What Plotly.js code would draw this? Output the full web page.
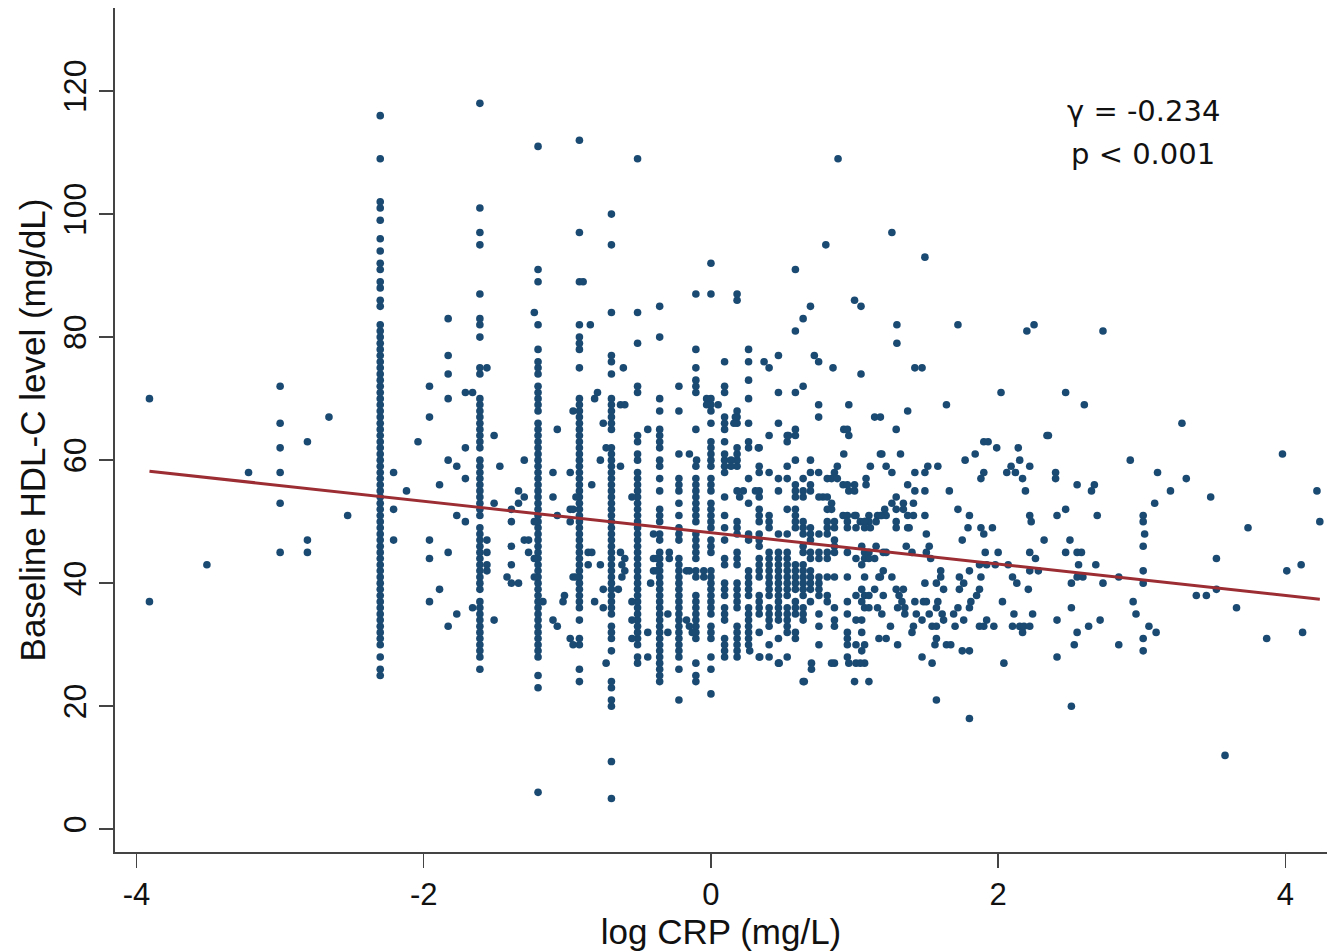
<!DOCTYPE html>
<html>
<head>
<meta charset="utf-8">
<script src="https://cdn.plot.ly/plotly-3.0.1.min.js"></script>
<style>html,body{margin:0;padding:0;background:#fff;}#chart{width:1327px;height:952px;}</style>
</head>
<body>
<div id="chart"></div>
<script>
// ---- Data: log CRP (x) vs baseline HDL-C (y) ----
// Columns where CRP is recorded at 0.1 mg/L resolution (x = ln CRP)
const colX = [-2.303, -1.609, -1.204, -0.916, -0.693, -0.511, -0.357, -0.223, -0.105, 0.0,
              0.095, 0.182, 0.262, 0.336, 0.405, 0.470, 0.531, 0.588, 0.642, 0.693];
const crp01 = [25,26,28,30,31,32,33,34,35,36,37,38,39,40,41,42,43,44,45,46,47,48,49,50,51,52,53,54,55,56,57,58,59,60,61,62,63,64,65,66,67,68,69,70,71,72,73,74,75,76,77,78,79,80,81,82,85,86,88,89,91,92,94,96,99,101,102,109,116];
const crp02 = [26,28,29,30,31,32,33,34,35,36,37,39,40,41,42,43,44,45,46,47,48,49,51,52,53,54,55,56,57,58,59,60,62,63,64,65,66,67,68,69,70,74,75,80,82,83,87,95,97,101,118];
const crp03 = [6,23,25,28,29,30,31,32,33,34,35,36,37,38,39,40,41,42,43,44,45,46,47,48,49,50,51,52,53,54,55,56,57,58,59,60,61,62,63,64,65,66,68,69,70,71,72,74,75,76,78,82,89,91,111];
const crp04 = [24,26,30,31,34,36,37,38,39,40,41,42,43,44,45,46,47,48,49,50,51,52,53,54,55,56,57,58,59,60,61,62,63,64,65,66,67,68,69,70,75,78,79,80,82,89,97,112];
const crp05 = [5,11,20,21,23,24,29,31,32,33,35,36,37,38,39,40,41,42,43,44,45,46,47,48,49,50,51,52,53,54,55,56,57,58,59,60,61,62,65,66,67,68,69,70,74,76,77,84,95,100];
const crp06 = [27,28,30,31,32,33,34,35,36,37,38,39,40,41,42,43,44,45,46,47,48,49,50,51,52,53,54,55,56,57,58,60,61,63,64,71,72,79,84,109];
const crp07 = [24,25,26,27,28,29,30,31,32,33,34,35,36,37,38,39,40,41,42,43,44,45,47,48,50,51,52,55,57,59,60,62,63,64,65,68,70,80,85];
const crp08 = [21,26,28,29,30,31,32,33,34,35,36,37,38,39,40,41,42,43,44,47,48,49,51,53,55,56,57,61,68,72];
const crp09 = [24,25,27,31,32,33,34,35,36,37,38,41,42,44,45,46,47,48,50,51,52,53,54,55,56,57,59,65,71,72,73,75,78,87];
const crp10 = [22,26,28,31,32,33,35,36,37,38,39,40,41,42,45,46,47,49,50,51,52,53,55,56,57,59,60,61,62,63,66,68,69,70,87,92];
const crp11 = [28,29,30,31,34,35,36,38,39,40,43,44,47,49,51,54,58,59,60,61,63,65,66,67,71,72,76];
const crp12 = [28,29,30,31,32,33,36,37,38,39,40,43,44,45,48,49,50,55,59,60,61,62,66,67,68,86,87];
const crp13 = [30,31,32,33,34,35,36,38,39,40,41,42,47,48,53,57,62,63,66,70,73,76,78];
const crp14 = [28,32,35,36,37,38,41,42,43,44,46,47,48,50,51,52,54,55,58,59,62];
const crp15 = [28,30,33,34,35,36,38,39,40,41,42,43,44,45,49,50,51,58,64,75];
const crp16 = [27,31,34,35,36,37,38,39,40,41,42,43,44,45,48,55,57,66,71,77];
const crp17 = [28,32,33,34,35,36,38,39,40,41,42,43,44,45,48,52,57,59,63,64];
const crp18 = [31,32,35,36,37,39,40,41,42,43,49,50,51,52,54,55,56,60,64,65,71,81,91];
const crp19 = [24,34,35,36,38,39,40,41,42,43,45,46,48,49,50,54,55,57,72,83];
const crp20 = [37,39,40,41,42,44,45,47,48,49,55,56,58,60,85];

// Individual points (x = ln CRP, y = HDL-C)
const leftPts = [
 [-3.91,70],[-3.91,37],[-3.51,43],[-3.22,58],
 [-3.0,72],[-3.0,66],[-3.0,62],[-3.0,58],[-3.0,53],[-3.0,45],
 [-2.81,63],[-2.81,47],[-2.81,45],[-2.66,67],[-2.53,51],
 [-2.21,58],[-2.21,52],[-2.21,47],[-2.12,55],[-2.04,63],
 [-1.96,72],[-1.96,67],[-1.96,47],[-1.96,44],[-1.96,37],
 [-1.89,56],[-1.89,39],
 [-1.83,83],[-1.83,77],[-1.83,74],[-1.83,70],[-1.83,60],[-1.83,45],[-1.83,33],
 [-1.77,59],[-1.77,51],[-1.77,35],
 [-1.71,71],[-1.66,71],[-1.71,62],[-1.71,57],[-1.71,50],[-1.66,36],
 [-1.56,75],[-1.56,47],[-1.56,45],[-1.56,43],[-1.56,42],
 [-1.51,64],[-1.51,53],[-1.51,34],[-1.47,59],
 [-1.39,52],[-1.39,50],[-1.39,46],[-1.39,43],[-1.42,41],[-1.39,40],[-1.34,40],
 [-1.34,55],[-1.30,54],[-1.34,53],[-1.30,60],[-1.30,47],[-1.27,47],[-1.27,45],
 [-1.23,84],[-1.23,50],[-1.23,44],[-1.23,41],[-1.17,37],
 [-1.10,58],[-1.10,54],[-1.10,34],[-1.07,65],[-1.07,51],[-1.07,33],
 [-1.03,37],[-1.02,38],[-0.98,58],[-0.98,52],[-0.96,52],[-0.98,50],[-0.96,68],[-0.94,54],
 [-0.96,41],[-0.94,41],[-0.98,31],[-0.96,30]
];
const midPts = [
 [-0.89,89],[-0.84,82],
 [-0.855,45],[-0.83,45],[-0.855,43],[-0.77,43],[-0.83,56],[-0.79,71],[-0.81,70],[-0.75,66],
 [-0.77,60],[-0.75,39],[-0.81,37],[-0.73,27],[-0.73,62],[-0.75,36],
 [-0.63,59],[-0.63,45],[-0.60,44],[-0.62,43],[-0.60,42],[-0.62,41],[-0.645,39],[-0.63,69],[-0.60,69],[-0.61,75],
 [-0.55,37],[-0.55,34],[-0.55,31],[-0.55,54],
 [-0.44,65],[-0.44,32],[-0.44,28],
 [-0.40,48],[-0.40,44],[-0.38,44],[-0.40,42],[-0.38,42],[-0.42,40],
 [-0.30,35],[-0.30,32],[-0.29,45],[-0.29,44],
 [-0.15,61],[-0.10,60],[-0.17,42],[-0.15,42],[-0.17,34],[-0.15,33],[-0.13,32],
 [-0.05,42],[-0.05,41],[-0.03,70],[-0.03,69],
 [0.05,69],[0.14,60],[0.14,59],[0.16,66],[0.17,67],[0.225,55],[0.20,54],[0.33,62],
 [0.37,76],[0.31,55],[0.54,64],
 [0.885,109],[1.26,97],[0.80,95],[1.49,93],[1.00,86],[1.045,85],[1.295,82],[1.295,79],[1.72,82],
 [0.72,77],[0.75,76],[0.85,75],[1.045,74],[1.42,75],[1.47,75],
 [0.75,69],[0.96,69],[0.75,67],[1.14,67],[1.37,68],[1.64,69],[2.02,71],
 [0.925,65],[0.96,64],[1.29,65],[0.925,61],[1.19,61],[1.32,61],
 [0.75,58],[0.88,59],[1.11,59],[1.22,59],[1.26,58],[1.42,58],[1.49,58],[1.51,59],[1.58,59],
 [0.84,57],[0.88,57],[0.92,56],[0.96,55],[1.0,55],[1.0,56],[1.08,56],[1.08,57],
 [1.37,56],[1.42,55],[1.49,55],[1.66,55],
 [0.78,54],[0.81,54],[0.84,53],[0.84,52],[0.81,52],
 [1.29,54],[1.26,53],[1.29,52],[1.34,53],[1.34,52],[1.37,51],[1.41,51],[1.41,53],
 [1.21,52],[1.19,51],[1.16,51],[1.22,51],[1.10,51],[1.04,50],[1.07,50],[1.10,50],[1.0,51],[0.92,51],[1.49,51],
 [1.29,50],[1.29,49],[1.37,49],
 [0.752,54],[0.752,48],[0.752,45],[0.752,44],[0.752,41],[0.752,40],[0.752,39],[0.752,38],[0.752,35],[0.752,33],[0.752,30],
 [0.81,57],[0.81,50],[0.81,49],[0.81,48],[0.81,45],[0.81,44],[0.81,41],[0.81,38],[0.81,37],
 [0.86,58],[0.86,50],[0.86,49],[0.86,47],[0.86,46],[0.86,45],[0.86,41],[0.86,36],[0.86,34],[0.86,33],[0.86,27],
 [0.95,65],[0.95,56],[0.95,51],[0.95,50],[0.95,49],[0.95,45],[0.95,41],[0.95,37],[0.95,35],[0.95,32],[0.95,31],[0.95,30],[0.95,28],
 [1.01,51],[1.01,49],[1.01,44],[1.01,38],[1.01,34],[1.01,30],[1.01,27],[1.0,24],
 [1.07,50],[1.07,49],[1.07,45],[1.07,44],[1.07,41],[1.07,38],[1.07,36],[1.07,30],[1.07,27],
 [1.11,49],[1.18,67],[1.18,61],[1.18,51],[1.18,41],
 [1.05,46],[1.05,43],[1.05,39],[1.05,37],[1.05,34],[1.05,32],[1.05,29],
 [1.10,45],[1.10,44],[1.10,38],[1.10,36],[1.10,24],
 [0.65,24],[0.70,27],[0.70,26],[0.84,27],[0.96,27],[1.04,27],[0.475,27],[0.34,28],[0.27,29]
];
const rightPts = [
 [1.20,45],[1.20,42],[1.17,41],[1.14,39],[1.20,38],[1.19,35],[1.17,31],[1.22,31],[1.15,50],[1.15,46],[1.14,44],[1.16,36],
 [1.29,39],[1.31,38],[1.34,39],[1.33,37],[1.30,36],[1.30,30],[1.22,45],[1.26,41],[1.25,33],
 [1.42,37],[1.48,37],[1.43,35],[1.41,33],[1.40,32],[1.35,36],[1.35,35],[1.38,49],[1.36,46],[1.40,45],
 [1.47,28],[1.54,27],[1.49,40],[1.47,34],[1.54,33],[1.50,48],[1.52,46],[1.50,45],[1.53,44],[1.50,37],[1.52,35],
 [1.60,42],[1.60,41],[1.57,40],[1.62,39],[1.58,37],[1.57,36],[1.61,35],[1.62,34],[1.57,33],[1.57,31],[1.56,30],[1.64,30],[1.67,30],[1.57,21],
 [1.73,41],[1.76,40],[1.73,39],[1.72,36],[1.69,35],[1.76,34],[1.70,33],[1.75,29],[1.80,29],
 [1.77,60],[1.84,61],[1.72,52],[1.80,51],[1.79,49],[1.88,49],[1.90,48],[1.96,49],[1.75,47],
 [1.90,58],[1.88,57],[1.90,63],[1.93,63],[1.99,62],
 [1.80,42],[1.87,43],[1.91,45],[1.88,41],[1.87,39],[1.85,38],[1.81,37],[1.80,36],[1.87,33],[1.92,34],[1.90,33],[1.80,18],
 [2.00,45],[1.92,43],[1.98,43],[2.03,37],[1.97,33],[2.04,27],
 [2.14,62],[2.15,60],[2.09,59],[2.12,58],[2.06,58],[2.22,59],[2.17,57],[2.19,55],[2.22,51],[2.23,50],[2.32,47],
 [2.07,43],[2.10,41],[2.13,40],[2.11,35],[2.10,33],[2.15,33],[2.17,32],[2.18,33],
 [2.22,45],[2.26,44],[2.22,42],[2.28,42],[2.21,39],[2.24,35],[2.22,33],
 [2.20,81],[2.25,82],[2.73,81],[2.34,64],
 [2.47,71],[2.60,69],[2.35,64],[3.28,66],[3.98,61],[2.92,60],[2.40,58],[2.40,57],[3.11,58],[3.31,57],
 [2.55,56],[2.67,56],[2.65,55],[3.20,55],[3.48,54],[4.22,55],[4.24,50],[3.09,53],
 [2.41,51],[2.47,52],[2.69,51],[3.01,51],[3.01,50],[3.02,48],[3.01,46],[3.74,49],[2.50,47],
 [2.47,45],[2.55,45],[2.58,45],[2.56,43],[2.68,43],[3.52,44],[4.11,43],[4.01,42],[3.01,42],
 [2.55,41],[2.59,41],[2.51,40],[2.73,40],[2.84,41],[3.01,40],[3.38,38],[3.45,38],[3.52,39],[3.66,36],
 [2.94,37],[2.96,35],[2.51,36],[2.41,34],[2.71,34],[2.63,33],[2.55,32],[2.53,30],[2.41,28],
 [3.05,33],[3.10,32],[2.84,30],[3.01,31],[3.01,29],[3.87,31],[4.12,32],[2.51,20],[3.58,12]
];

// Fitted regression line (end points)
const fitX = [-3.91, 4.24];
const fitY = [58.2, 37.4];

// Annotation text and tick labels
const statLines = ["γ = -0.234", "p &lt; 0.001"];
const xTicks = [-4, -2, 0, 2, 4];
const yTicks = [0, 20, 40, 60, 80, 100, 120];

// ---- Build scatter arrays ----
const columns = [crp01,crp02,crp03,crp04,crp05,crp06,crp07,crp08,crp09,crp10,
                 crp11,crp12,crp13,crp14,crp15,crp16,crp17,crp18,crp19,crp20];
const X = [], Y = [];
columns.forEach((ys, i) => ys.forEach(y => { X.push(colX[i]); Y.push(y); }));
[leftPts, midPts, rightPts].forEach(list => list.forEach(p => { X.push(p[0]); Y.push(p[1]); }));

const dots = {
  x: X, y: Y, type: 'scatter', mode: 'markers',
  marker: {size: 7.6, color: '#1a4971', line: {width: 0}},
  hoverinfo: 'x+y', showlegend: false
};
const fit = {
  x: fitX, y: fitY, type: 'scatter', mode: 'lines',
  line: {color: '#9b2d33', width: 3}, showlegend: false, hoverinfo: 'skip'
};

const FONT = 'Liberation Sans, Arial, sans-serif';
const axisCommon = {
  showgrid: false, zeroline: false, showline: true,
  linecolor: '#444', linewidth: 2,
  ticks: 'outside', ticklen: 14, tickwidth: 1.5, tickcolor: '#444'
};

const layout = {
  width: 1327, height: 952,
  margin: {l: 115, r: 0, t: 8, b: 100, pad: 0},
  paper_bgcolor: '#fff', plot_bgcolor: '#fff',
  xaxis: Object.assign({}, axisCommon, {
    range: [-4.15, 4.29], tickmode: 'array', tickvals: xTicks, ticktext: xTicks.map(String),
    tickfont: {family: FONT, size: 31, color: '#111'},
    title: {text: 'log CRP (mg/L)', font: {family: FONT, size: 35, color: '#111'}, standoff: 5}
  }),
  yaxis: Object.assign({}, axisCommon, {
    range: [-3.7, 133.5], tickmode: 'array', tickvals: yTicks, ticktext: yTicks.map(String),
    tickangle: -90,
    tickfont: {family: FONT, size: 32, color: '#111'},
    title: {text: 'Baseline HDL-C level (mg/dL)', font: {family: FONT, size: 35, color: '#111'}, standoff: 1}
  }),
  annotations: [
    {x: 3.01, y: 116.8, xref: 'x', yref: 'y', text: statLines[0], showarrow: false,
     xanchor: 'center', yanchor: 'middle', font: {family: 'DejaVu Sans, sans-serif', size: 29, color: '#111'}},
    {x: 3.01, y: 109.8, xref: 'x', yref: 'y', text: statLines[1], showarrow: false,
     xanchor: 'center', yanchor: 'middle', font: {family: 'DejaVu Sans, sans-serif', size: 29, color: '#111'}}
  ]
};

Plotly.newPlot('chart', [dots, fit], layout, {displayModeBar: false, staticPlot: true});
</script>
</body>
</html>
